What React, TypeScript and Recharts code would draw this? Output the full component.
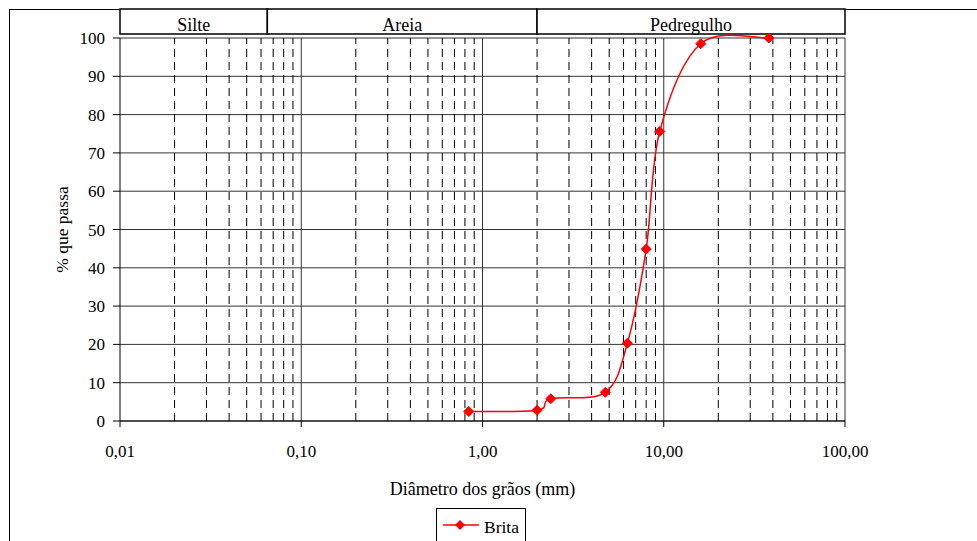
import React from "react"
import {
  LineChart,
  Line,
  XAxis,
  YAxis,
  CartesianGrid,
  ReferenceLine,
  ReferenceArea,
} from "recharts"

// granulometria - Brita
const diametros = [0.84, 2.0, 2.38, 4.76, 6.3, 8.0, 9.5, 16, 38]
const passantes = [2.5, 2.8, 5.8, 7.5, 20.3, 44.9, 75.6, 98.5, 100]

const xTicks = [0.01, 0.1, 1, 10, 100]
const yTicks = [0, 10, 20, 30, 40, 50, 60, 70, 80, 90, 100]
const minorSteps = [2, 3, 4, 5, 6, 7, 8, 9]

// faixas do cabeçalho
const faixas = [
  { nome: "Silte", de: 0.01, ate: 0.065 },
  { nome: "Areia", de: 0.065, ate: 2.0 },
  { nome: "Pedregulho", de: 2.0, ate: 100 },
]

const data = diametros.map((d, i) => ({ d, p: passantes[i] }))
const minorLines = xTicks.slice(0, -1).flatMap((dec) => minorSteps.map((k) => k * dec))

const FONT = "Liberation Serif"

// smoothing parecido com o do Excel (Catmull-Rom)
function excelSmooth(context: any) {
  let pts: number[][] = []
  return {
    areaStart() {},
    areaEnd() {},
    lineStart() {
      pts = []
    },
    point(x: number, y: number) {
      pts.push([+x, +y])
    },
    lineEnd() {
      if (!pts.length) return
      context.moveTo(pts[0][0], pts[0][1])
      for (let i = 0; i < pts.length - 1; i++) {
        const p0 = pts[i - 1] || pts[i]
        const p1 = pts[i]
        const p2 = pts[i + 1]
        const p3 = pts[i + 2] || p2
        context.bezierCurveTo(
          p1[0] + (p2[0] - p0[0]) / 6,
          p1[1] + (p2[1] - p0[1]) / 6,
          p2[0] - (p3[0] - p1[0]) / 6,
          p2[1] - (p3[1] - p1[1]) / 6,
          p2[0],
          p2[1]
        )
      }
    },
  }
}

const Diamond = (props: any) => {
  const { cx, cy } = props
  if (cx == null || cy == null) return null
  const s = 5
  return (
    <polygon
      points={`${cx},${cy - s} ${cx + s},${cy} ${cx},${cy + s} ${cx - s},${cy}`}
      fill="#FF0000"
      stroke="#FF0000"
    />
  )
}

const fmt = (v: number) => v.toFixed(2).replace(".", ",")

export default function App() {
  return (
    <div
      style={{
        position: "absolute",
        left: 0,
        top: 0,
        width: 977,
        height: 541,
        background: "#fff",
        overflow: "hidden",
        fontFamily: FONT,
      }}
    >
      <div
        style={{
          position: "absolute",
          left: 9,
          top: 9,
          width: 980,
          height: 540,
          borderLeft: "1px solid #000",
          borderTop: "1px solid #000",
        }}
      />
      <LineChart
        width={977}
        height={541}
        data={data}
        margin={{ top: 38, right: 132, bottom: 40, left: 0 }}
        style={{ fontFamily: FONT }}
      >
        <CartesianGrid vertical={false} stroke="#333" strokeWidth={1} />
        {minorLines.map((v) => (
          <ReferenceLine key={"m" + v} x={v} stroke="#000" strokeDasharray="8 5" />
        ))}
        {xTicks.slice(1).map((v) => (
          <ReferenceLine key={"d" + v} x={v} stroke="#333" />
        ))}
        {faixas.map((f) => (
          <ReferenceArea
            key={f.nome}
            x1={f.de}
            x2={f.ate}
            y1={101.05}
            y2={107.55}
            ifOverflow="visible"
            fill="#fff"
            fillOpacity={1}
            stroke="#000"
            strokeWidth={1.5}
            label={{
              value: f.nome,
              position: "center",
              fill: "#000",
              fontSize: 18,
              fontFamily: FONT,
              dy: 3,
            }}
          />
        ))}
        <XAxis
          dataKey="d"
          type="number"
          scale="log"
          domain={[0.01, 100]}
          ticks={xTicks}
          allowDataOverflow
          tickFormatter={fmt}
          height={80}
          tickSize={6}
          tickMargin={18}
          stroke="#000"
          tick={{ fill: "#000", fontSize: 17, fontFamily: FONT }}
          label={{
            value: "Diâmetro dos grãos (mm)",
            position: "insideBottom",
            offset: 6,
            fill: "#000",
            fontSize: 18,
            fontFamily: FONT,
          }}
        />
        <YAxis
          type="number"
          domain={[0, 100]}
          ticks={yTicks}
          width={120}
          tickSize={7}
          tickMargin={8}
          stroke="#000"
          tick={{ fill: "#000", fontSize: 17, fontFamily: FONT }}
          label={{
            value: "% que passa",
            angle: -90,
            position: "center",
            dx: 2,
            fill: "#000",
            fontSize: 17.5,
            fontFamily: FONT,
          }}
        />
        <Line
          dataKey="p"
          type={excelSmooth as any}
          stroke="#FF0000"
          strokeWidth={1.5}
          dot={<Diamond />}
          activeDot={false}
          isAnimationActive={false}
        />
      </LineChart>
      <div
        style={{
          position: "absolute",
          left: 436,
          top: 508,
          width: 90,
          height: 36,
          border: "1px solid #000",
          boxSizing: "border-box",
          background: "#fff",
        }}
      >
        <svg width={90} height={36} style={{ position: "absolute", left: 0, top: 0 }}>
          <line x1={6} y1={16} x2={42} y2={16} stroke="#FF0000" strokeWidth={1.5} />
          <polygon points="23,11 28,16 23,21 18,16" fill="#FF0000" />
          <text x={47} y={24} fontSize={17.5} fontFamily={FONT} fill="#000">
            Brita
          </text>
        </svg>
      </div>
    </div>
  )
}
